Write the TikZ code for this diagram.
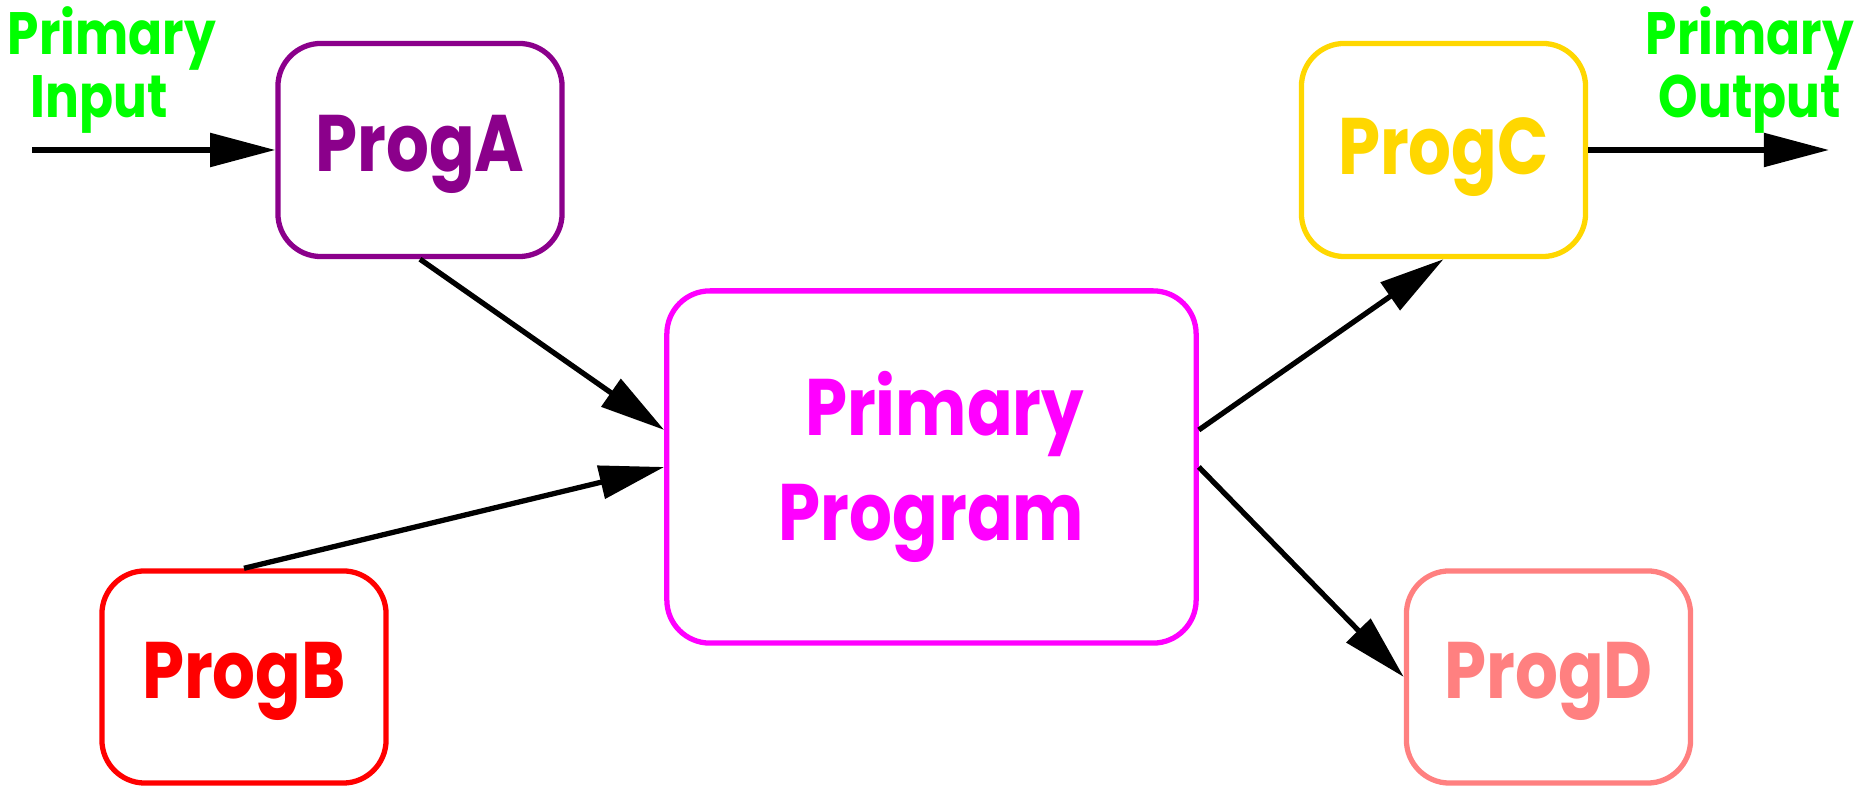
\documentclass[tikz,border=0pt]{standalone}
\usepackage{fontspec}
\setmainfont{Poppins}[FakeStretch=0.84]
\usetikzlibrary{arrows.meta}
\definecolor{cPurple}{RGB}{139,0,139}
\definecolor{cGreen}{RGB}{0,255,0}
\definecolor{cMagenta}{RGB}{255,0,255}
\definecolor{cGold}{RGB}{255,215,0}
\definecolor{cRed}{RGB}{255,0,0}
\definecolor{cSalmon}{RGB}{255,128,128}
\begin{document}
\begin{tikzpicture}[x=0.01cm,y=-0.01cm,
  prog/.style={draw=#1, text=#1, line width=1.5pt, rounded corners=0.43cm,
    minimum width=2.84cm, minimum height=2.13cm, inner sep=0pt,
    text height=16pt, text depth=3.5pt,
    font=\fontsize{22.8}{30}\selectfont\bfseries},
  lbl/.style={text=cGreen, align=center, inner sep=0pt,
    font=\fontsize{17}{17.9}\selectfont\bfseries},
  conn/.style={line width=1.5pt, -{Triangle[length=0.65cm,width=0.33cm]}}]
\path[use as bounding box] (0,0) rectangle (1868,786);
\node[prog=cPurple] (A) at (420,150) {ProgA};
\node[prog=cGold, text height=17.7pt] (C) at (1443.5,150) {ProgC};
\node[prog=cRed, minimum height=2.12cm] (B) at (244,677) {ProgB};
\node[prog=cSalmon, minimum height=2.12cm] (D) at (1548.5,677) {ProgD};
\node[prog=cMagenta, minimum width=5.29cm, minimum height=3.52cm, align=right,
  text height=, text depth=] (P) at (931.5,467) {Primary\\Program};
\node[lbl, anchor=north] (in) at (112,6) {Primary\\Input\hspace*{0.43em}};
\node[lbl, anchor=north] (out) at (1750,6) {Primary\\Output};
\coordinate (inStart) at (32,150);
\coordinate (outEnd) at (1829,150);
\draw[conn] (inStart) -- (A.west);
\draw[conn] (C.east) -- (outEnd);
\draw[conn] (A.south) -- ([yshift=0.37cm]P.west);
\draw[conn] (B.north) -- (P.west);
\draw[conn] ([yshift=0.37cm]P.east) -- (C.south);
\draw[conn] (P.east) -- (D.west);
\end{tikzpicture}
\end{document}
